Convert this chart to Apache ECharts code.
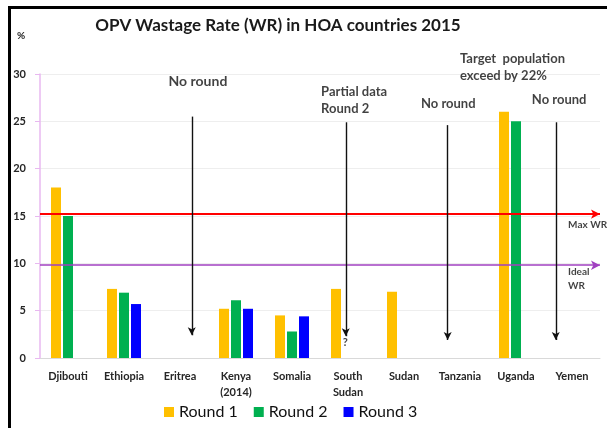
<!DOCTYPE html>
<html><head><meta charset="utf-8">
<script src="https://cdn.jsdelivr.net/npm/echarts@6/dist/echarts.min.js"></script>
<style>html,body{margin:0;padding:0;background:#fff}#c{width:607px;height:428px}</style>
</head><body><div id="c"></div>
<script>
const categories = ['Djibouti','Ethiopia','Eritrea','Kenya\n(2014)','Somalia','South\nSudan','Sudan','Tanzania','Uganda','Yemen'];
const round1 = [18, 7.3, null, 5.2, 4.5, 7.3, 7.0, null, 26, null];
const round2 = [15, 6.9, null, 6.1, 2.8, null, null, null, 25, null];
const round3 = [null, 5.7, null, 5.2, 4.4, null, null, null, null, null];
const yTicks = [0, 5, 10, 15, 20, 25, 30];
const maxWR = 15.2;
const idealWR = 9.8;
// annotation arrows (x in category-index units, y in %)
const arrows = [[2.71, 25.5, 2.4], [5.46, 24.9, 2.3], [7.28, 24.6, 1.9], [9.21, 24.9, 1.9]];
// annotation texts
const notes = [
  {t:'No round', x:2.82, y:29.25, a:'center', s:14},
  {t:'Partial data\nRound 2', x:5.02, y:27.2, a:'left', s:13},
  {t:'No round', x:7.29, y:26.9, a:'center', s:13},
  {t:'Target  population\nexceed by 22%', x:7.5, y:30.7, a:'left', s:13},
  {t:'No round', x:9.27, y:27.3, a:'center', s:13},
  {t:'Max WR', x:9.43, y:14.1, a:'left', s:10},
  {t:'Ideal\nWR', x:9.43, y:8.4, a:'left', s:10},
  {t:'?', x:5.45, y:1.6, a:'center', s:11}
];
const F = 'Lato, "Open Sans", sans-serif';
const chart = echarts.init(document.getElementById('c'));
chart.setOption({
  animation:false,
  textStyle:{fontFamily:F},
  title:{text:'OPV Wastage Rate (WR) in HOA countries 2015', left:273, textAlign:'center', top:12,
    textStyle:{fontFamily:F, fontSize:17, fontWeight:'bold', color:'#1a1a1a'}},
  graphic:[
    {type:'rect', shape:{x:8, y:6, width:3, height:422}, style:{fill:'#000'}},
    {type:'rect', shape:{x:8, y:6, width:599, height:3}, style:{fill:'#000'}},
    {type:'text', left:17, top:31, style:{text:'%', font:'bold 10px '+F, fill:'#222'}}
  ],
  legend:{bottom:3, left:159, itemWidth:10, itemHeight:10, itemGap:16, icon:'rect',
    textStyle:{fontFamily:F, fontSize:16, color:'#111'},
    data:['Round 1','Round 2','Round 3']},
  grid:{left:40, right:7, top:74, bottom:70},
  xAxis:[
    {type:'category', data:categories, axisTick:{show:false},
     axisLine:{lineStyle:{color:'#d9d9d9'}},
     axisLabel:{fontFamily:F, fontSize:11, fontWeight:'bold', color:'#262626', margin:10, lineHeight:16}},
    {type:'value', min:0, max:10, show:false}
  ],
  yAxis:{type:'value', min:yTicks[0], max:yTicks[yTicks.length-1], interval:5,
    axisLine:{show:true, lineStyle:{color:'#e8b8f0', width:1.5}},
    splitLine:{lineStyle:{color:'#eeeeee'}},
    axisLabel:{fontFamily:F, fontSize:11, fontWeight:'bold', color:'#262626', margin:14}},
  series:[
    {name:'Round 1', type:'bar', data:round1, barWidth:10, barGap:'20%', itemStyle:{color:'#FFC000'},
     markLine:{silent:true, symbol:['none','arrow'], symbolSize:[7,9], label:{show:false},
       data:[
         {yAxis:maxWR, lineStyle:{color:'#FF0000', width:2, type:'solid'}},
         {yAxis:idealWR, lineStyle:{color:'#A040C0', width:1.6, type:'solid'}}
       ]}},
    {name:'Round 2', type:'bar', data:round2, barWidth:10, barGap:'20%', itemStyle:{color:'#00B050'}},
    {name:'Round 3', type:'bar', data:round3, barWidth:10, barGap:'20%', itemStyle:{color:'#0000FF'}},
    {type:'scatter', xAxisIndex:1, clip:false, symbolSize:0, silent:true,
     data:notes.map(n=>({value:[n.x,n.y], label:{show:true, formatter:n.t, position:'inside', align:n.a,
       fontFamily:F, fontSize:n.s, fontWeight:'bold', color:'#111', lineHeight:n.s+4}})),
     markLine:{silent:true, symbol:['none','arrow'], symbolSize:[6,8], label:{show:false},
       lineStyle:{color:'#111', width:1.4, type:'solid'},
       data:arrows.map(a=>[{coord:[a[0],a[1]]},{coord:[a[0],a[2]]}])}}
  ]
});
</script></body></html>
